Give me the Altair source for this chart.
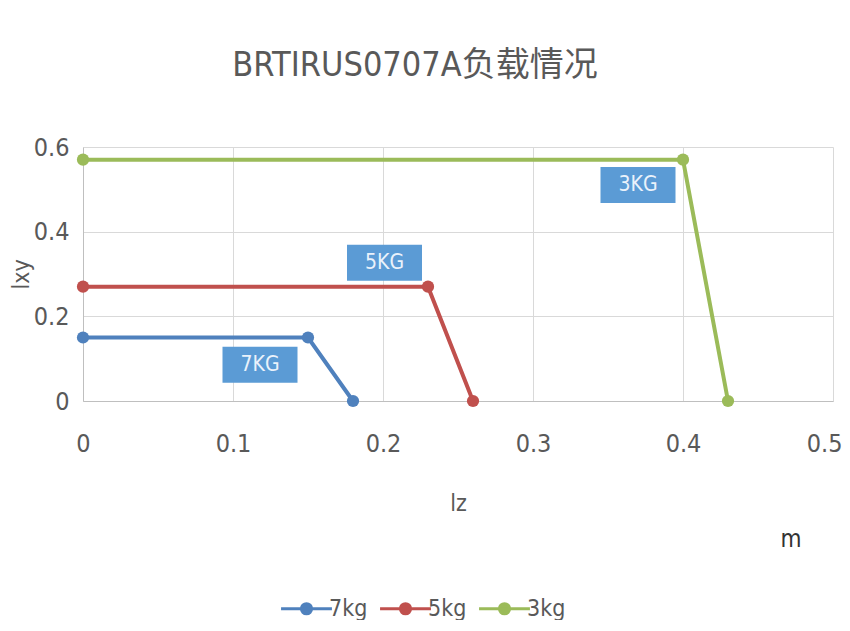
import altair as alt
import pandas as pd

series = ["7kg", "5kg", "3kg"]
colors = ["#4F81BD", "#C0504D", "#9BBB59"]
x_7kg = [0, 0.15, 0.18]
y_7kg = [0.15, 0.15, 0]
x_5kg = [0, 0.23, 0.26]
y_5kg = [0.27, 0.27, 0]
x_3kg = [0, 0.40, 0.43]
y_3kg = [0.57, 0.57, 0]

box_labels = ["7KG", "5KG", "3KG"]
box_x1 = [0.093, 0.176, 0.345]
box_x2 = [0.143, 0.226, 0.395]
box_y1 = [0.043, 0.284, 0.468]
box_y2 = [0.128, 0.369, 0.553]

rows = []
for name, xs, ys in zip(series, [x_7kg, x_5kg, x_3kg], [y_7kg, y_5kg, y_3kg]):
    for i, (xv, yv) in enumerate(zip(xs, ys)):
        rows.append({"series": name, "lz": xv, "lxy": yv, "order": i})
df = pd.DataFrame(rows)

boxes = pd.DataFrame({
    "label": box_labels,
    "x1": box_x1, "x2": box_x2, "y1": box_y1, "y2": box_y2,
})
boxes["xm"] = (boxes["x1"] + boxes["x2"]) / 2
boxes["ym"] = (boxes["y1"] + boxes["y2"]) / 2

FONT = "DejaVu Sans Condensed, Noto Sans CJK SC, sans-serif"

xscale = alt.Scale(domain=[0, 0.5], nice=False)
yscale = alt.Scale(domain=[0, 0.6], nice=False)
color = alt.Color(
    "series:N",
    scale=alt.Scale(domain=series, range=colors),
    legend=alt.Legend(
        title=None, orient="none", direction="horizontal",
        legendX=205, legendY=443,
        symbolType="M-1.5,0L1.5,0M-0.3,0a0.3,0.3 0 1,0 0.6,0a0.3,0.3 0 1,0 -0.6,0",
        symbolSize=1150, symbolStrokeWidth=3,
        labelFontSize=23, labelColor="#595959", labelFont=FONT,
        columnPadding=6, labelOffset=4,
    ),
)

base = alt.Chart(df).encode(
    x=alt.X("lz:Q", scale=xscale,
            axis=alt.Axis(title="lz", values=[0, 0.1, 0.2, 0.3, 0.4, 0.5],
                          format="~g", titlePadding=36, labelFlush=False,
                          labelPadding=30,
                          labelAlign={"condition": {"test": "datum.value >= 0.5", "value": "right"},
                                      "value": "center"},
                          labelOffset={"condition": {"test": "datum.value >= 0.5", "value": 9},
                                       "value": 0})),
    y=alt.Y("lxy:Q", scale=yscale,
            axis=alt.Axis(title="lxy", values=[0, 0.2, 0.4, 0.6],
                          format="~g", labelPadding=14, labelFlush=False,
                          titleX=-62, titleY=127, titleAngle=-90,
                          titleBaseline="middle", titleAlign="center")),
    color=color,
    order="order:Q",
)

lines = base.mark_line(strokeWidth=4)
points = base.mark_circle(size=150, opacity=1)

rects = alt.Chart(boxes).mark_rect(color="#5B9BD5").encode(
    x=alt.X("x1:Q", scale=xscale), x2="x2:Q",
    y=alt.Y("y1:Q", scale=yscale), y2="y2:Q",
)
texts = alt.Chart(boxes).mark_text(color="#EAF2FB", fontSize=21, font=FONT).encode(
    x=alt.X("xm:Q", scale=xscale),
    y=alt.Y("ym:Q", scale=yscale),
    text="label:N",
)
m_text = alt.Chart(boxes).transform_filter("datum.label == '3KG'").mark_text(
    fontSize=24, font=FONT, color="#333333"
).encode(x=alt.value(708), y=alt.value(393), text=alt.value("m"))

chart = alt.layer(lines, points, rects, texts, m_text).properties(
    width=750, height=254,
    autosize=alt.AutoSizeParams(type="none"),
    padding={"left": 75, "top": 139, "right": 9, "bottom": 219},
    title=alt.Title("BRTIRUS0707A负载情况", fontSize=34, font=FONT,
                    color="#595959", fontWeight="normal", dx=-43, offset=52),
).configure_view(stroke=None).configure_axis(
    gridColor="#D9D9D9", domainColor="#BFBFBF", tickSize=0,
    labelFont=FONT, labelFontSize=25, labelColor="#595959",
    titleFont=FONT, titleFontSize=23, titleColor="#595959", titleFontWeight="normal",
)

chart.save("out.html", embed_options={"renderer": "svg", "actions": False})
